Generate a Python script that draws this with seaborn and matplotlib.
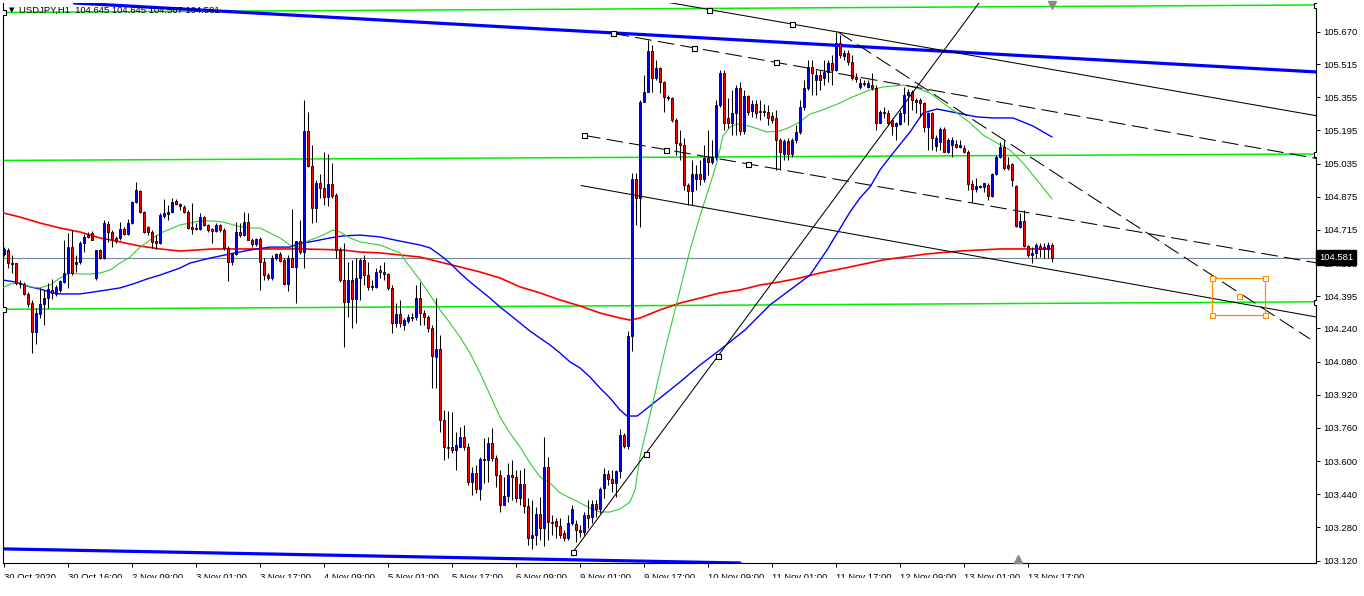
import numpy as np
import pandas as pd
import matplotlib
matplotlib.use("Agg")
import matplotlib.pyplot as plt
import matplotlib.transforms as mtransforms
from matplotlib.patches import Rectangle
import seaborn as sns

sns.set_style("white")
plt.rcParams['font.family'] = ['Liberation Sans', 'DejaVu Sans']
plt.rcParams['lines.scale_dashes'] = False

# ---- USDJPY H1 candles (bar 0 = 30 Oct 2020 00:00) ----
opens = [
    104.599, 104.618, 104.555, 104.555, 104.459, 104.454, 104.406, 104.362, 104.222, 104.309,
    104.357, 104.386, 104.425, 104.406, 104.425, 104.464, 104.507, 104.632, 104.550, 104.560,
    104.652, 104.690, 104.700, 104.483, 104.618, 104.579, 104.743, 104.705, 104.676, 104.676,
    104.719, 104.695, 104.748, 104.850, 104.903, 104.801, 104.729, 104.705, 104.661, 104.652,
    104.782, 104.792, 104.801, 104.854, 104.840, 104.825, 104.801, 104.729, 104.724, 104.719,
    104.777, 104.739, 104.719, 104.710, 104.739, 104.714, 104.628, 104.560, 104.599, 104.705,
    104.690, 104.753, 104.666, 104.647, 104.671, 104.560, 104.497, 104.483, 104.579, 104.599,
    104.570, 104.454, 104.579, 104.536, 104.661, 104.608, 105.192, 105.023, 104.821, 104.941,
    104.917, 104.874, 104.936, 104.883, 104.618, 104.473, 104.367, 104.473, 104.382, 104.483,
    104.570, 104.497, 104.440, 104.440, 104.521, 104.512, 104.502, 104.435, 104.266, 104.309,
    104.256, 104.275, 104.290, 104.295, 104.386, 104.314, 104.295, 104.242, 104.102, 104.140,
    103.798, 103.668, 103.668, 103.653, 103.668, 103.716, 103.668, 103.499, 103.542, 103.465,
    103.610, 103.605, 103.687, 103.615, 103.533, 103.388, 103.431, 103.533, 103.523, 103.422,
    103.489, 103.383, 103.229, 103.243, 103.345, 103.277, 103.571, 103.306, 103.311, 103.287,
    103.253, 103.229, 103.301, 103.296, 103.267, 103.258, 103.340, 103.330, 103.393, 103.369,
    103.470, 103.537, 103.513, 103.494, 103.552, 103.726, 103.673, 104.203, 104.961, 104.869,
    105.332, 105.380, 105.578, 105.448, 105.496, 105.428, 105.356, 105.351, 105.245, 105.134,
    105.124, 104.932, 104.903, 104.961, 104.985, 104.961, 105.062, 105.043, 105.067, 105.317,
    105.472, 105.255, 105.231, 105.279, 105.399, 105.192, 105.361, 105.288, 105.322, 105.288,
    105.284, 105.284, 105.264, 105.255, 105.149, 105.081, 105.144, 105.081, 105.149, 105.187,
    105.308, 105.399, 105.501, 105.438, 105.462, 105.448, 105.477, 105.520, 105.486, 105.617,
    105.554, 105.568, 105.525, 105.453, 105.404, 105.424, 105.404, 105.414, 105.399, 105.231,
    105.284, 105.279, 105.245, 105.216, 105.226, 105.279, 105.366, 105.380, 105.342, 105.342,
    105.327, 105.211, 105.279, 105.120, 105.139, 105.202, 105.091, 105.124, 105.129, 105.115,
    105.110, 105.091, 104.936, 104.912, 104.927, 104.922, 104.932, 104.879, 104.985, 105.067,
    105.115, 105.028, 105.033, 104.927, 104.729, 104.758, 104.637, 104.594, 104.604, 104.637,
    104.623, 104.623, 104.642,
]
highs = [
    104.632, 104.628, 104.594, 104.555, 104.473, 104.464, 104.415, 104.377, 104.338, 104.435,
    104.425, 104.459, 104.478, 104.449, 104.473, 104.666, 104.700, 104.714, 104.594, 104.661,
    104.695, 104.705, 104.710, 104.618, 104.623, 104.763, 104.758, 104.714, 104.686, 104.753,
    104.729, 104.767, 104.854, 104.946, 104.907, 104.806, 104.734, 104.714, 104.690, 104.797,
    104.864, 104.835, 104.869, 104.864, 104.845, 104.835, 104.811, 104.845, 104.748, 104.797,
    104.782, 104.743, 104.724, 104.748, 104.743, 104.724, 104.637, 104.604, 104.753, 104.748,
    104.801, 104.797, 104.676, 104.676, 104.681, 104.579, 104.507, 104.594, 104.604, 104.608,
    104.579, 104.594, 104.816, 104.661, 104.763, 105.342, 105.284, 105.124, 104.956, 104.985,
    105.091, 105.081, 105.038, 104.893, 104.632, 104.652, 104.560, 104.570, 104.579, 104.579,
    104.594, 104.560, 104.473, 104.531, 104.546, 104.560, 104.507, 104.449, 104.362, 104.377,
    104.290, 104.309, 104.314, 104.449, 104.464, 104.329, 104.305, 104.256, 104.386, 104.208,
    103.846, 103.841, 103.836, 103.740, 103.764, 103.774, 103.687, 103.571, 103.581, 103.619,
    103.711, 103.716, 103.759, 103.629, 103.557, 103.523, 103.590, 103.605, 103.557, 103.557,
    103.566, 103.422, 103.412, 103.378, 103.427, 103.716, 103.619, 103.340, 103.325, 103.325,
    103.267, 103.340, 103.388, 103.316, 103.291, 103.354, 103.412, 103.412, 103.412, 103.475,
    103.566, 103.557, 103.557, 103.557, 103.755, 103.735, 104.227, 104.989, 104.989, 105.342,
    105.462, 105.631, 105.607, 105.535, 105.501, 105.433, 105.366, 105.356, 105.255, 105.197,
    105.158, 104.941, 105.052, 105.028, 105.052, 105.124, 105.197, 105.149, 105.342, 105.486,
    105.486, 105.351, 105.390, 105.414, 105.428, 105.390, 105.366, 105.342, 105.342, 105.342,
    105.322, 105.317, 105.284, 105.293, 105.158, 105.153, 105.158, 105.158, 105.221, 105.342,
    105.438, 105.535, 105.535, 105.486, 105.486, 105.535, 105.535, 105.559, 105.670, 105.655,
    105.583, 105.583, 105.559, 105.472, 105.448, 105.438, 105.438, 105.472, 105.414, 105.293,
    105.308, 105.293, 105.255, 105.236, 105.293, 105.404, 105.395, 105.390, 105.351, 105.351,
    105.332, 105.284, 105.284, 105.173, 105.211, 105.211, 105.158, 105.163, 105.149, 105.149,
    105.124, 105.100, 104.956, 104.965, 104.932, 104.941, 104.941, 104.989, 105.076, 105.139,
    105.149, 105.067, 105.038, 104.932, 104.797, 104.811, 104.642, 104.632, 104.652, 104.652,
    104.652, 104.657, 104.652,
]
lows = [
    104.589, 104.531, 104.507, 104.449, 104.435, 104.401, 104.343, 104.121, 104.165, 104.290,
    104.256, 104.338, 104.382, 104.396, 104.415, 104.459, 104.435, 104.497, 104.512, 104.550,
    104.608, 104.676, 104.666, 104.473, 104.575, 104.575, 104.657, 104.632, 104.652, 104.666,
    104.690, 104.690, 104.743, 104.845, 104.797, 104.700, 104.690, 104.628, 104.623, 104.647,
    104.772, 104.763, 104.797, 104.835, 104.811, 104.797, 104.719, 104.695, 104.714, 104.714,
    104.734, 104.705, 104.652, 104.705, 104.705, 104.618, 104.468, 104.546, 104.594, 104.681,
    104.686, 104.666, 104.632, 104.637, 104.425, 104.473, 104.473, 104.473, 104.570, 104.560,
    104.449, 104.420, 104.536, 104.362, 104.599, 104.531, 105.019, 104.748, 104.753, 104.869,
    104.835, 104.830, 104.869, 104.579, 104.464, 104.150, 104.295, 104.242, 104.266, 104.377,
    104.449, 104.425, 104.425, 104.435, 104.483, 104.473, 104.425, 104.218, 104.247, 104.247,
    104.232, 104.266, 104.275, 104.280, 104.256, 104.256, 104.222, 103.952, 103.952, 103.740,
    103.605, 103.615, 103.639, 103.557, 103.668, 103.653, 103.484, 103.436, 103.446, 103.412,
    103.494, 103.499, 103.600, 103.475, 103.354, 103.388, 103.402, 103.412, 103.402, 103.388,
    103.349, 103.195, 103.176, 103.195, 103.219, 103.190, 103.219, 103.243, 103.229, 103.229,
    103.214, 103.219, 103.291, 103.209, 103.234, 103.243, 103.277, 103.301, 103.330, 103.349,
    103.422, 103.484, 103.451, 103.427, 103.518, 103.663, 103.658, 104.131, 104.739, 104.729,
    105.332, 105.380, 105.380, 105.438, 105.375, 105.284, 105.342, 105.236, 105.076, 105.052,
    104.907, 104.835, 104.835, 104.907, 104.932, 104.946, 104.980, 105.033, 105.052, 105.308,
    105.197, 105.207, 105.173, 105.173, 105.173, 105.178, 105.269, 105.260, 105.255, 105.245,
    105.264, 105.221, 105.231, 105.004, 105.004, 105.052, 105.052, 105.067, 105.134, 105.178,
    105.293, 105.390, 105.366, 105.366, 105.390, 105.414, 105.428, 105.414, 105.480, 105.544,
    105.535, 105.510, 105.438, 105.428, 105.395, 105.409, 105.399, 105.390, 105.197, 105.231,
    105.255, 105.221, 105.173, 105.149, 105.221, 105.236, 105.221, 105.293, 105.279, 105.260,
    105.187, 105.100, 105.100, 105.096, 105.100, 105.091, 105.086, 105.067, 105.110, 105.110,
    105.086, 104.907, 104.850, 104.898, 104.917, 104.898, 104.859, 104.874, 104.980, 105.062,
    105.004, 105.004, 104.927, 104.729, 104.724, 104.632, 104.584, 104.555, 104.579, 104.584,
    104.579, 104.579, 104.560,
]
closes = [
    104.623, 104.555, 104.550, 104.459, 104.454, 104.406, 104.357, 104.222, 104.314, 104.357,
    104.386, 104.430, 104.411, 104.440, 104.468, 104.507, 104.632, 104.507, 104.560, 104.652,
    104.681, 104.681, 104.666, 104.618, 104.579, 104.748, 104.705, 104.671, 104.661, 104.719,
    104.695, 104.748, 104.850, 104.907, 104.801, 104.705, 104.705, 104.657, 104.652, 104.787,
    104.797, 104.801, 104.850, 104.840, 104.830, 104.801, 104.724, 104.719, 104.719, 104.777,
    104.739, 104.714, 104.710, 104.739, 104.714, 104.628, 104.560, 104.599, 104.705, 104.690,
    104.753, 104.666, 104.647, 104.671, 104.560, 104.497, 104.483, 104.579, 104.599, 104.565,
    104.454, 104.579, 104.536, 104.661, 104.608, 105.192, 105.023, 104.821, 104.941, 104.917,
    104.874, 104.936, 104.879, 104.618, 104.473, 104.367, 104.473, 104.382, 104.483, 104.570,
    104.497, 104.440, 104.444, 104.512, 104.512, 104.502, 104.435, 104.266, 104.309, 104.266,
    104.280, 104.295, 104.295, 104.386, 104.314, 104.295, 104.242, 104.107, 104.140, 103.798,
    103.668, 103.663, 103.653, 103.677, 103.716, 103.668, 103.499, 103.542, 103.465, 103.610,
    103.605, 103.687, 103.615, 103.533, 103.388, 103.431, 103.533, 103.523, 103.422, 103.489,
    103.383, 103.229, 103.243, 103.345, 103.277, 103.571, 103.306, 103.301, 103.287, 103.243,
    103.229, 103.301, 103.369, 103.267, 103.258, 103.340, 103.325, 103.393, 103.369, 103.465,
    103.537, 103.513, 103.494, 103.552, 103.726, 103.673, 104.203, 104.961, 104.869, 105.332,
    105.380, 105.578, 105.448, 105.496, 105.428, 105.356, 105.351, 105.245, 105.134, 105.124,
    104.932, 104.903, 104.985, 104.985, 104.961, 105.062, 105.043, 105.067, 105.317, 105.472,
    105.231, 105.231, 105.279, 105.399, 105.192, 105.361, 105.284, 105.322, 105.279, 105.284,
    105.288, 105.255, 105.245, 105.149, 105.091, 105.144, 105.081, 105.149, 105.187, 105.308,
    105.399, 105.501, 105.472, 105.462, 105.438, 105.477, 105.520, 105.486, 105.617, 105.559,
    105.568, 105.525, 105.448, 105.443, 105.424, 105.419, 105.424, 105.399, 105.231, 105.284,
    105.279, 105.231, 105.216, 105.231, 105.279, 105.366, 105.380, 105.342, 105.332, 105.327,
    105.211, 105.279, 105.158, 105.158, 105.202, 105.091, 105.149, 105.149, 105.115, 105.124,
    105.091, 104.936, 104.912, 104.927, 104.922, 104.941, 104.879, 104.985, 105.067, 105.115,
    105.014, 105.014, 104.956, 104.734, 104.758, 104.637, 104.594, 104.604, 104.642, 104.623,
    104.632, 104.642, 104.581,
]

# ---- moving averages (bar index, price) ----
ma_fast_bars = [-0.25, 1.5, 4, 6.5, 9, 11.5, 14, 16.5, 19, 21.5, 24, 26.5, 29, 31.5, 33.25, 34.75,
                37.25, 39.75, 42.25, 44, 46.5, 49, 52.25, 54.75, 58.25, 61.5, 64, 66.5, 69, 71.5,
                73.25, 74.75, 77.25, 79.75, 82.25, 84, 86.5, 89, 94, 99, 100.75, 104, 106.5, 109,
                111.5, 114, 116.5, 119, 121.5, 124, 126.5, 129, 131.5, 134, 136.5, 139, 141.5, 144,
                146.5, 149, 151.5, 154, 156.5, 157.75, 159, 161.5, 165.25, 169, 171.5, 174, 176.5,
                178.25, 179.75, 181.5, 183.25, 185.25, 187.75, 190.75, 194, 196.5, 199, 201.5, 204,
                206.5, 209, 211.5, 214, 216.5, 219.75, 224.75, 228.25, 231.5, 234.75, 238.25,
                241.5, 244.75, 248.25, 251.5, 254.75, 258.25, 262]
ma_fast_vals = [104.435, 104.454, 104.459, 104.440, 104.435, 104.449, 104.483, 104.507, 104.502,
                104.502, 104.507, 104.521, 104.555, 104.584, 104.618, 104.642, 104.676, 104.705,
                104.724, 104.739, 104.748, 104.758, 104.758, 104.753, 104.734, 104.724, 104.724,
                104.700, 104.676, 104.642, 104.628, 104.652, 104.671, 104.690, 104.714, 104.705,
                104.676, 104.657, 104.642, 104.604, 104.555, 104.473, 104.401, 104.329, 104.266,
                104.198, 104.121, 104.025, 103.919, 103.812, 103.735, 103.668, 103.590, 103.523,
                103.494, 103.446, 103.422, 103.398, 103.373, 103.354, 103.354, 103.369, 103.402,
                103.460, 103.619, 103.822, 104.136, 104.425, 104.618, 104.782, 104.932, 105.043,
                105.168, 105.211, 105.226, 105.221, 105.207, 105.187, 105.192, 105.211, 105.236,
                105.274, 105.289, 105.308, 105.327, 105.351, 105.371, 105.390, 105.404, 105.414,
                105.399, 105.375, 105.327, 105.279, 105.231, 105.173, 105.134, 105.100, 105.038,
                104.956, 104.864]

ma_mid_bars = [-0.25, 2.75, 6.5, 9, 11.5, 14, 19, 24, 29, 32.25, 35.75, 39, 44, 46.5, 51.5, 56.5,
               61.5, 66.5, 71.5, 74, 76.5, 81.5, 84.75, 89, 94, 99, 104, 106.5, 109, 111.5, 114,
               116.5, 119, 121.5, 124, 126.5, 129, 131.5, 134, 136.5, 139, 141.5, 144, 146.5, 149,
               151.5, 154, 155.75, 158.25, 159, 164, 169, 174, 179, 185.25, 191.5, 196.5, 201.5,
               205.75, 211.5, 214, 216.5, 219, 221.5, 226.5, 229.75, 233.25, 238.25, 243.25,
               247.25, 252.25, 257.25, 262]
ma_mid_vals = [104.473, 104.464, 104.440, 104.430, 104.415, 104.406, 104.406, 104.420, 104.435,
               104.454, 104.478, 104.497, 104.531, 104.555, 104.579, 104.599, 104.618, 104.632,
               104.632, 104.652, 104.657, 104.676, 104.686, 104.690, 104.681, 104.661, 104.642,
               104.628, 104.594, 104.555, 104.507, 104.464, 104.425, 104.386, 104.343, 104.305,
               104.266, 104.227, 104.193, 104.160, 104.121, 104.078, 104.049, 104.005, 103.952,
               103.904, 103.846, 103.817, 103.817, 103.827, 103.904, 103.981, 104.063, 104.136,
               104.232, 104.353, 104.425, 104.497, 104.618, 104.801, 104.869, 104.922, 105.004,
               105.067, 105.187, 105.279, 105.298, 105.279, 105.260, 105.255, 105.255, 105.216,
               105.163]

ma_slow_bars = [-0.25, 4, 9, 14, 19, 24, 29, 34, 39, 44, 52.25, 64, 74.75, 84.75, 89, 94, 99, 104,
                109, 114, 119, 124, 129, 134, 139, 144, 149, 154, 156.5, 159, 164, 169, 174, 179,
                184, 189, 194, 199, 204, 211.5, 219.75, 230.75, 239, 249, 262]
ma_slow_vals = [104.797, 104.777, 104.748, 104.724, 104.705, 104.676, 104.657, 104.637, 104.623,
                104.613, 104.623, 104.623, 104.623, 104.618, 104.608, 104.604, 104.594, 104.584,
                104.560, 104.536, 104.512, 104.483, 104.440, 104.411, 104.377, 104.348, 104.314,
                104.290, 104.280, 104.290, 104.329, 104.362, 104.386, 104.411, 104.425, 104.449,
                104.464, 104.483, 104.507, 104.536, 104.570, 104.599, 104.613, 104.623, 104.623]

# ---- drawn objects (bar index, price) ----
trend_up = [(142.25, 103.161), (178.5, 104.107)]
channel_top = [(155.5, 105.848), (197.0, 105.708)]
channel_dash_upper = [(152.18, 105.663), (193.0, 105.523)]
channel_dash_lower = [(145.0, 105.171), (186.08, 105.033)]
channel_bottom = [(144.25, 104.929), (328.0, 104.295)]
fan_dash = [(208.5, 105.670), (326.5, 104.189)]
blue_top = [(15.25, 105.812), (328.0, 105.477)]
blue_bottom = [(0.0, 103.176), (184.0, 103.108)]
green_levels = [[(-0.25, 105.764), (328.0, 105.800)],
                [(-0.25, 105.050), (328.0, 105.081)],
                [(-0.25, 104.332), (328.0, 104.368)]]
target_box = (302.0, 104.305, 315.25, 104.483)
last_price = 104.581

time_labels = ['30 Oct 2020', '30 Oct 16:00', '2 Nov 09:00', '3 Nov 01:00', '3 Nov 17:00',
               '4 Nov 09:00', '5 Nov 01:00', '5 Nov 17:00', '6 Nov 09:00', '9 Nov 01:00',
               '9 Nov 17:00', '10 Nov 09:00', '11 Nov 01:00', '11 Nov 17:00', '12 Nov 09:00',
               '13 Nov 01:00', '13 Nov 17:00']
time_label_bars = list(range(0, 257, 16))
price_ticks = [105.670, 105.515, 105.355, 105.195, 105.035, 104.875, 104.715, 104.555,
               104.395, 104.240, 104.080, 103.920, 103.760, 103.600, 103.440, 103.280, 103.120]
header = 'USDJPY,H1  104.645 104.645 104.567 104.581'

W, H = 1364, 596
FS = 6.8
XMAX = 328.0

fig = plt.figure(figsize=(W / 100, H / 100), dpi=100)
ax = fig.add_axes([3 / W, 33 / H, 1313 / W, 560 / H])
ax.set_xlim(-0.25, XMAX)
ax.set_ylim(103.108, 105.8095)


def ray(p1, p2, x_end=400.0):
    (x1, y1), (x2, y2) = p1, p2
    k = (y2 - y1) / (x2 - x1)
    return [x1, x_end], [y1, y1 + k * (x_end - x1)]


def squares(pts, edge='black'):
    xs, ys = zip(*pts)
    ax.plot(xs, ys, ls='none', marker='s', ms=3.6, mfc='white', mec=edge, mew=0.8, zorder=9)


# horizontal green levels and price line
for lvl in green_levels:
    (xa, ya), (xb, yb) = lvl
    ax.plot([xa, xb], [ya, yb], color='#00ee00', lw=1.1, zorder=2)
squares([green_levels[0][0], green_levels[0][1], green_levels[1][1],
         green_levels[2][0], green_levels[2][1]])
ax.axhline(last_price, color='#778899', lw=0.8, zorder=2)

# thick blue channel
ax.axline(blue_top[0], blue_top[1], color='#0000ff', lw=2.3, zorder=2)
ax.axline(blue_bottom[0], blue_bottom[1], color='#0000ff', lw=2.3, zorder=2)

# moving averages
sns.lineplot(x=ma_slow_bars, y=ma_slow_vals, ax=ax, color='#ff0000', lw=1.2,
             estimator=None, sort=False, zorder=3)
sns.lineplot(x=ma_mid_bars, y=ma_mid_vals, ax=ax, color='#0000ff', lw=1.0,
             estimator=None, sort=False, zorder=3)
sns.lineplot(x=ma_fast_bars, y=ma_fast_vals, ax=ax, color='#33cc33', lw=0.8,
             estimator=None, sort=False, zorder=3)

# candles
o = np.array(opens)
h = np.array(highs)
l = np.array(lows)
c = np.array(closes)
x = np.arange(len(o))
top = np.maximum(o, c)
bot = np.minimum(o, c)
ax.vlines(x, np.minimum(l, bot), np.maximum(h, top), color='black', lw=0.75, zorder=4)
body_col = np.where(c >= o, '#0000ff', '#ff0000')
ax.bar(x, np.maximum(top - bot, 0.0005), bottom=bot, width=0.5, color=body_col,
       edgecolor='black', linewidth=0.6, zorder=5)

# trend lines
tl = dict(color='black', lw=0.75, zorder=6)
dash = (0, (12, 4.5))
ax.plot(*ray(*trend_up), **tl)
ax.plot(*ray(*channel_top), **tl)
ax.plot(*ray(*channel_bottom), **tl)
ax.plot(*ray(*channel_dash_upper), ls=dash, **tl)
ax.plot(*ray(*channel_dash_lower), ls=dash, **tl)
ax.plot([fan_dash[0][0], fan_dash[1][0]], [fan_dash[0][1], fan_dash[1][1]], ls=dash, **tl)

for line in (trend_up, channel_top, channel_dash_upper, channel_dash_lower):
    (xa, ya), (xb, yb) = line
    squares([(xa, ya), ((xa + xb) / 2, (ya + yb) / 2), (xb, yb)])

# target rectangle
bx0, by0, bx1, by1 = target_box
ax.add_patch(Rectangle((bx0, by0), bx1 - bx0, by1 - by0, fill=False,
                       edgecolor='#ff8c00', lw=0.9, zorder=7))
squares([(bx0, by0), (bx1, by0), (bx0, by1), (bx1, by1),
         ((bx0 + bx1) / 2, (by0 + by1) / 2)], edge='#ff8c00')

# axes styling
for side in ('left', 'bottom', 'right'):
    ax.spines[side].set_visible(True)
    ax.spines[side].set_color('black')
    ax.spines[side].set_linewidth(0.8)
ax.spines['top'].set_visible(False)
ax.grid(False)

ax.yaxis.tick_right()
ax.set_yticks(price_ticks)
ax.set_yticklabels([f'{v:.3f}' for v in price_ticks])
ax.tick_params(axis='y', which='both', right=True, left=False, length=3, width=0.7,
               pad=2, labelsize=FS, colors='black')
ax.set_xticks(time_label_bars)
ax.set_xticklabels(time_labels, ha='left')
ax.tick_params(axis='x', which='both', bottom=True, length=3, width=0.7,
               pad=4, labelsize=FS, colors='black')
ax.set_xlabel('')
ax.set_ylabel('')

# current price tag on the scale
tag_tr = mtransforms.blended_transform_factory(ax.transAxes, ax.transData)
ax.text(1.0 + 3 / 1313, last_price, f'{last_price:.3f}', transform=tag_tr, ha='left',
        va='center', fontsize=FS, color='white', clip_on=False, zorder=20,
        bbox=dict(boxstyle='square,pad=0.35', fc='black', ec='black'))

# chart shift / period markers
mk_tr = mtransforms.blended_transform_factory(ax.transData, ax.transAxes)
ax.plot([len(o) - 1], [1 - 2 / 560], transform=mk_tr, marker='v', ms=6, color='#8a8a8a',
        clip_on=False, zorder=20, ls='none')
ax.plot([253.5], [4 / 560], transform=mk_tr, marker='^', ms=6, color='#8a8a8a',
        clip_on=False, zorder=20, ls='none')

# header
fig.text(9 / W, 1 - 10 / H, '\u25BC', fontsize=5, color='black', va='center', ha='left',
         family=['DejaVu Sans'])
fig.text(19 / W, 1 - 10 / H, header, fontsize=FS, color='black', va='center', ha='left')

# bottom edge of the terminal window cuts the time labels
fig.add_artist(Rectangle((0, 0), 1, 18.5 / H, transform=fig.transFigure,
                         fc='white', ec='none', zorder=50))

fig.savefig('out.png', dpi=100)
